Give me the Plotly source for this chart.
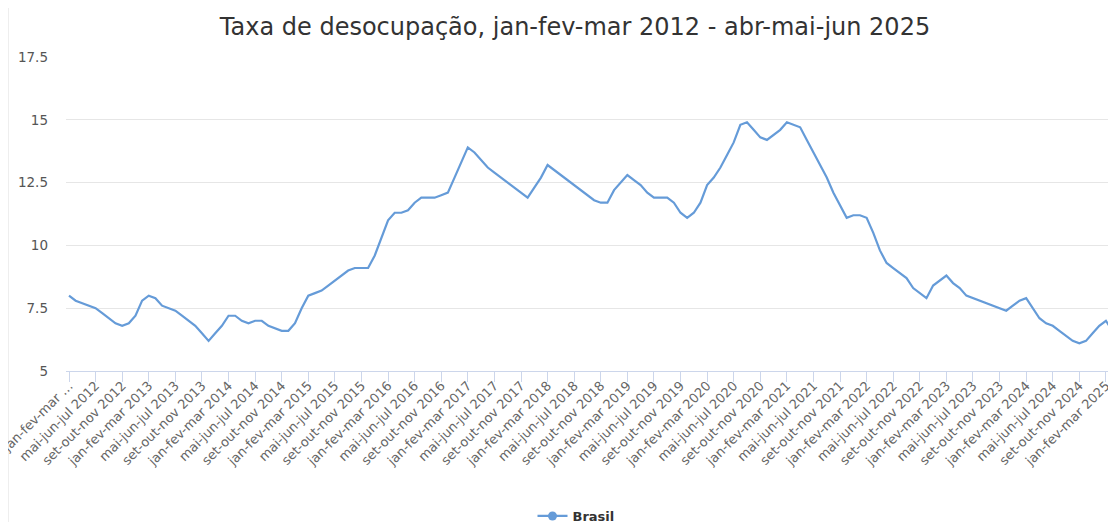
import plotly.graph_objects as go

# Rolling-quarter labels (jan-fev-mar 2012 ... abr-mai-jun 2025)
months = ["jan", "fev", "mar", "abr", "mai", "jun", "jul", "ago", "set", "out", "nov", "dez"]
start_year = 2012
n_points = 160
categories = []
for k in range(n_points):
    m = k % 12
    y = start_year + k // 12
    a, b, c = months[m], months[(m + 1) % 12], months[(m + 2) % 12]
    end_year = y + (1 if m + 2 >= 12 else 0)
    categories.append(f"{a}-{b}-{c} {end_year}")

# Taxa de desocupação (%), Brasil
brasil = [
    # 2012
    8.0, 7.8, 7.7, 7.6, 7.5, 7.3, 7.1, 6.9, 6.8, 6.9, 7.2, 7.8,
    # 2013
    8.0, 7.9, 7.6, 7.5, 7.4, 7.2, 7.0, 6.8, 6.5, 6.2, 6.5, 6.8,
    # 2014
    7.2, 7.2, 7.0, 6.9, 7.0, 7.0, 6.8, 6.7, 6.6, 6.6, 6.9, 7.5,
    # 2015
    8.0, 8.1, 8.2, 8.4, 8.6, 8.8, 9.0, 9.1, 9.1, 9.1, 9.6, 10.3,
    # 2016
    11.0, 11.3, 11.3, 11.4, 11.7, 11.9, 11.9, 11.9, 12.0, 12.1, 12.7, 13.3,
    # 2017
    13.9, 13.7, 13.4, 13.1, 12.9, 12.7, 12.5, 12.3, 12.1, 11.9, 12.3, 12.7,
    # 2018
    13.2, 13.0, 12.8, 12.6, 12.4, 12.2, 12.0, 11.8, 11.7, 11.7, 12.2, 12.5,
    # 2019
    12.8, 12.6, 12.4, 12.1, 11.9, 11.9, 11.9, 11.7, 11.3, 11.1, 11.3, 11.7,
    # 2020
    12.4, 12.7, 13.1, 13.6, 14.1, 14.8, 14.9, 14.6, 14.3, 14.2, 14.4, 14.6,
    # 2021
    14.9, 14.8, 14.7, 14.2, 13.7, 13.2, 12.7, 12.1, 11.6, 11.1, 11.2, 11.2,
    # 2022
    11.1, 10.5, 9.8, 9.3, 9.1, 8.9, 8.7, 8.3, 8.1, 7.9, 8.4, 8.6,
    # 2023
    8.8, 8.5, 8.3, 8.0, 7.9, 7.8, 7.7, 7.6, 7.5, 7.4, 7.6, 7.8,
    # 2024
    7.9, 7.5, 7.1, 6.9, 6.8, 6.6, 6.4, 6.2, 6.1, 6.2, 6.5, 6.8,
    # 2025
    7.0, 6.6, 6.2, 5.8,
]

y_ticks = [5, 7.5, 10, 12.5, 15, 17.5]
tick_step = 4

title_text = "Taxa de desocupação, jan-fev-mar 2012 - abr-mai-jun 2025"
series_name = "Brasil"
line_color = "#659BD8"

x_idx = list(range(len(brasil)))
tick_idx = x_idx[::tick_step]
tick_txt = [categories[i] for i in tick_idx]
tick_txt[0] = "jan-fev-mar …"   # shown truncated in the reference

fig = go.Figure()
fig.add_trace(go.Scatter(
    x=x_idx, y=brasil, mode="lines", name=series_name,
    line=dict(color=line_color, width=2.2),
    customdata=categories,
    hovertemplate="%{customdata}<br>%{y}<extra>Brasil</extra>",
    showlegend=False,
))
# legend entry (line + marker symbol, as in the reference)
fig.add_trace(go.Scatter(
    x=[None], y=[None], mode="lines+markers", name=series_name,
    line=dict(color=line_color, width=2.2),
    marker=dict(color=line_color, size=9, symbol="circle"),
))

# page body has an 8px margin: figure covers window pixels 8..1116 / 8..522
OFF = 8
W, H = 1116 - OFF, 522 - OFF
ml = 66 - OFF
mt = 57 - OFF
plot_bottom = 371 - OFF
mb = H - plot_bottom
mr = 0
plot_w = W - ml - mr
plot_h = H - mt - mb
px_per_pt = 6.647
x0 = -3 / px_per_pt
x1 = x0 + plot_w / px_per_pt

fig.update_layout(
    width=W, height=H,
    margin=dict(l=ml, r=mr, t=mt, b=mb, autoexpand=False),
    paper_bgcolor="white", plot_bgcolor="white",
    font=dict(family="DejaVu Sans", color="#666666"),
    title=dict(
        text=title_text, x=(575 - OFF) / W, xref="container", xanchor="center",
        y=1 - (27 - OFF) / H, yref="container", yanchor="middle",
        font=dict(size=24, color="#333333", family="DejaVu Sans"),
    ),
    xaxis=dict(
        range=[x0, x1], tickmode="array", tickvals=tick_idx, ticktext=tick_txt,
        tickangle=-45, tickfont=dict(size=13, color="#666666"),
        showgrid=False, zeroline=False,
        showline=True, linecolor="#ccd6eb", linewidth=1,
        ticks="outside", ticklen=10, tickcolor="#ccd6eb", tickwidth=1,
        ticklabelstandoff=-9, ticklabeloverflow="allow",
        automargin=False,
    ),
    yaxis=dict(
        range=[5, 17.5], tickmode="array", tickvals=y_ticks,
        ticktext=[f"{v:g}" for v in y_ticks],
        tickfont=dict(size=13.5, color="#555555"),
        showgrid=True, gridcolor="#e6e6e6", gridwidth=1,
        zeroline=False, showline=False, ticks="",
        ticklabelstandoff=17, automargin=False,
    ),
    legend=dict(
        orientation="h", x=(576 - OFF - ml) / plot_w, xanchor="center",
        y=-(516 - OFF - plot_bottom) / plot_h, yanchor="middle",
        font=dict(size=13, color="#333333", weight="bold"),
        itemwidth=30, bgcolor="rgba(0,0,0,0)",
    ),
    hovermode="x",
    shapes=[dict(
        type="line", xref="paper", yref="paper",
        x0=(0.5 - ml) / plot_w, x1=(0.5 - ml) / plot_w,
        y0=-mb / plot_h, y1=1 + mt / plot_h,
        line=dict(color="#eeeeee", width=1), layer="below",
    )],
)

fig.write_html("out.html")
